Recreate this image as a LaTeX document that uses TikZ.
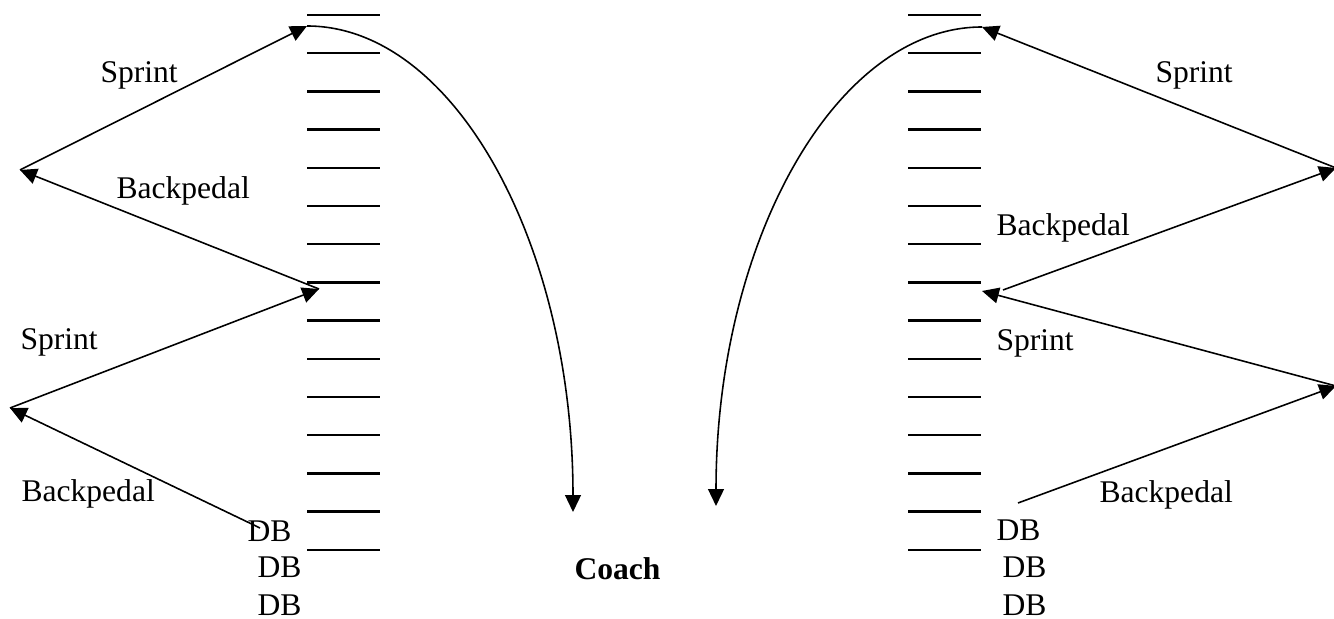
\documentclass[tikz,border=0pt]{standalone}
\usepackage{fontspec}
\setmainfont{Liberation Serif}
\usetikzlibrary{arrows.meta}
\begin{document}
\begin{tikzpicture}[x=0.38pt, y=-0.38pt,
    flecha/.style={-{Triangle[length=6.4pt,width=6pt]}, line width=0.6pt},
    marca/.style={line width=0.85pt},
    etiqueta/.style={anchor=base west, inner sep=0pt, font=\fontsize{12}{14}\selectfont}]
    \useasboundingbox (0,0) rectangle (1334,619);

    % Yardas (marcas horizontales)
    \foreach \i in {0,...,14} {
        \draw[marca] (307,{15+38.2*\i}) -- +(73,0);
        \draw[marca] (908,{15+38.2*\i}) -- +(73,0);
    }

    % Puntos de giro
    \coordinate (izqA) at (307,26);
    \coordinate (izqB) at (20,170);
    \coordinate (izqC) at (319,289);
    \coordinate (izqD) at (10,408);
    \coordinate (izqE) at (260,528);
    \coordinate (izqF) at (573,512);
    \coordinate (derA) at (982,27);
    \coordinate (derB) at (1336,168);
    \coordinate (derC) at (982,291);
    \coordinate (derCs) at (1003,290);
    \coordinate (derD) at (1336,386);
    \coordinate (derE) at (1018,503);
    \coordinate (derF) at (716,506);

    % Recorrido izquierdo
    \draw[flecha] (izqE) -- (izqD);
    \draw[flecha] (izqD) -- (izqC);
    \draw[flecha] (izqC) -- (izqB);
    \draw[flecha] (izqB) -- (izqA);
    \draw[flecha] (izqA) .. controls +(147,0) and +(0,-268) .. (izqF);

    % Recorrido derecho
    \draw[flecha] (derE) -- (derD);
    \draw[flecha] (derD) -- (derC);
    \draw[flecha] (derCs) -- (derB);
    \draw[flecha] (derB) -- (derA);
    \draw[flecha] (derA) .. controls +(-146,0) and +(0,-265) .. (derF);

    % Etiquetas izquierda
    \node[etiqueta] (sprIzqA) at (100,83) {Sprint};
    \node[etiqueta] (bpIzqA) at (116,199) {Backpedal};
    \node[etiqueta] (sprIzqB) at (20,350) {Sprint};
    \node[etiqueta] (bpIzqB) at (21,502) {Backpedal};
    \node[etiqueta] (dbIzqA) at (247,542) {DB};
    \node[etiqueta] (dbIzqB) at (257,578) {DB};
    \node[etiqueta] (dbIzqC) at (257,615) {DB};

    % Etiquetas derecha
    \node[etiqueta] (sprDerA) at (1155,83) {Sprint};
    \node[etiqueta] (bpDerA) at (996,236) {Backpedal};
    \node[etiqueta] (sprDerB) at (996,351) {Sprint};
    \node[etiqueta] (bpDerB) at (1099,503) {Backpedal};
    \node[etiqueta] (dbDerA) at (996,541) {DB};
    \node[etiqueta] (dbDerB) at (1002,578) {DB};
    \node[etiqueta] (dbDerC) at (1002,615) {DB};

    % Entrenador
    \node[etiqueta, font=\fontsize{12}{14}\selectfont\bfseries] (coach) at (574,580) {Coach};

\end{tikzpicture}
\end{document}
